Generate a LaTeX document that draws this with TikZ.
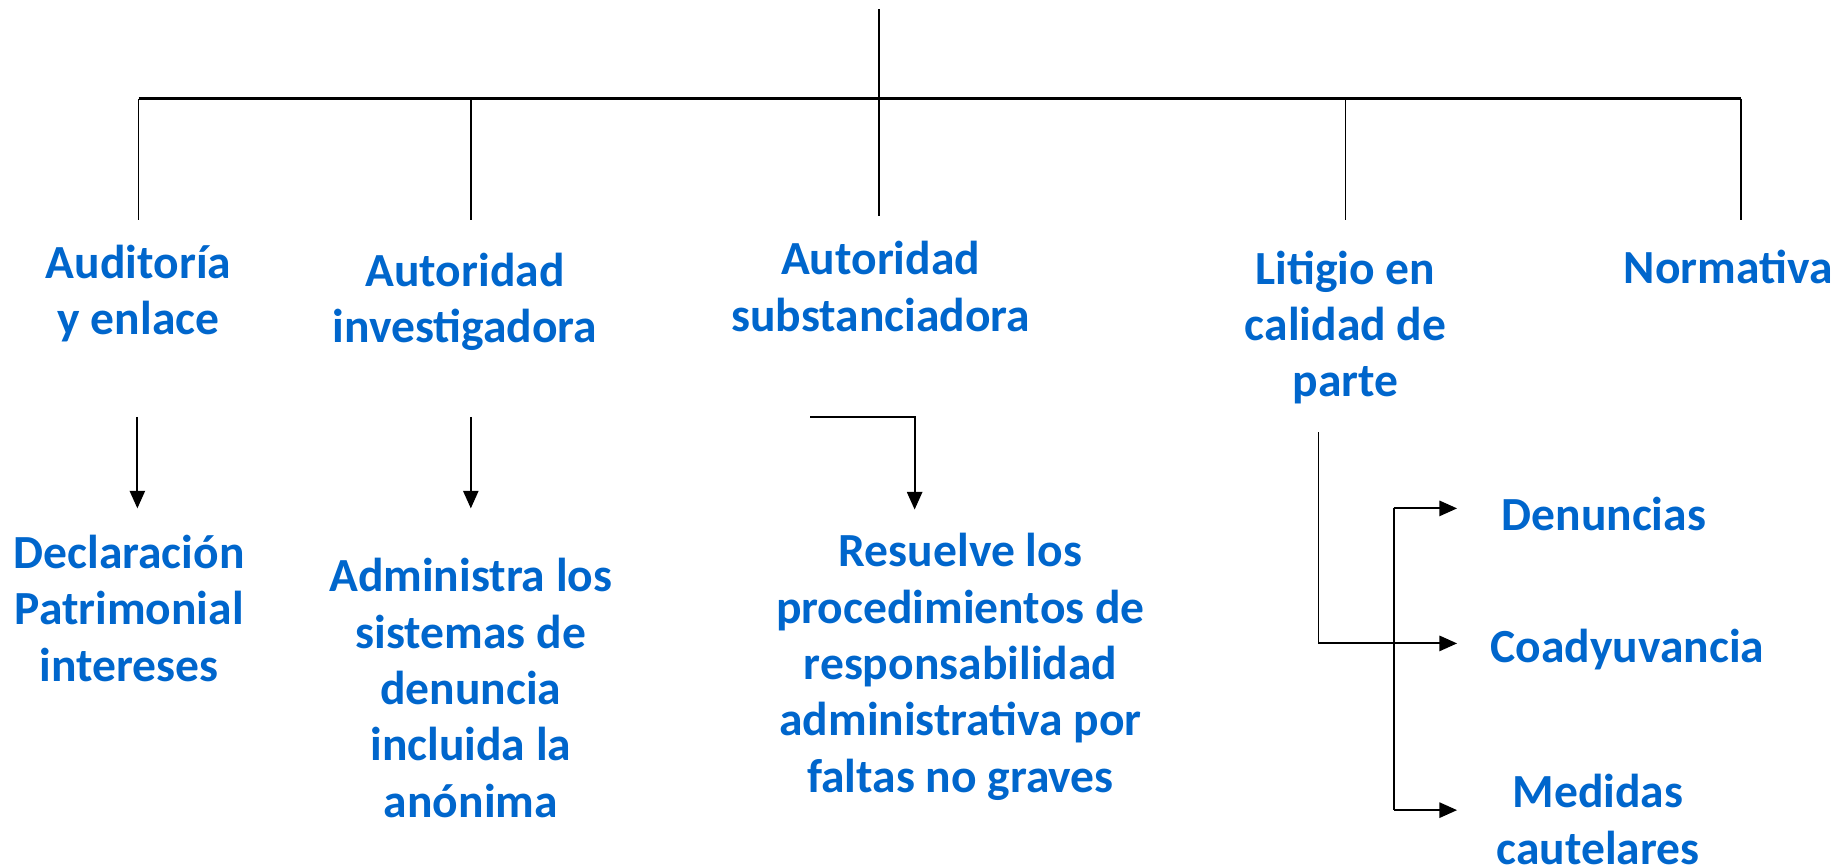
\documentclass[tikz,border=0pt]{standalone}
\usepackage{fontspec}
\setmainfont{Carlito}
\usetikzlibrary{arrows.meta}
\definecolor{txtblue}{RGB}{0,102,204}
\begin{document}
\begin{tikzpicture}[x=1pt,y=-1pt,
  lbl/.style={text=txtblue,font=\fontsize{40.5}{48}\selectfont\bfseries,align=center,inner sep=0pt},
  ln/.style={draw=black,line width=1.6pt},
  arr/.style={ln,-{Triangle[length=15pt,width=13pt]}}]
\useasboundingbox (0,0) rectangle (1568,737.6);
% top tree coordinates
\coordinate (top) at (749,8);
\coordinate (hub) at (749,84);
\coordinate (hl) at (118,84);
\coordinate (hr) at (1483,84);
\coordinate (h2) at (401,84);
\coordinate (h4) at (1146,84);
\coordinate (d1) at (118,187);
\coordinate (d2) at (401,187);
\coordinate (d3) at (749,184);
\coordinate (d4) at (1146,187);
\coordinate (d5) at (1483,187);
% labels
\node[lbl] (aud) at (118,250) {Auditoría\\y enlace};
\node[lbl] (inv) at (396,257) {Autoridad\\investigadora};
\node[lbl] (sub) at (750,244) {Autoridad\\substanciadora};
\node[lbl] (lit) at (1146,279) {Litigio en\\calidad de\\parte};
\node[lbl] (nor) at (1472,227) {Normativa};
\node[lbl] (dec) at (110,518) {Declaración\\Patrimonial\\intereses};
\node[lbl] (adm) at (401,586) {Administra los\\sistemas de\\denuncia\\incluida la\\anónima};
\node[lbl] (res) at (818,568) {Resuelve los\\procedimientos de\\responsabilidad\\administrativa por\\faltas no graves};
\node[lbl] (den) at (1366,438) {Denuncias};
\node[lbl] (coa) at (1386,553) {Coadyuvancia};
\node[lbl] (med) at (1361,698) {Medidas\\cautelares};
% tree lines
\draw[ln] (top) -- (hub);
\draw[ln,line width=2.2pt] (hl) -- (hr);
\draw[ln] (hl) -- (d1);
\draw[ln] (h2) -- (d2);
\draw[ln] (hub) -- (d3);
\draw[ln] (h4) -- (d4);
\draw[ln] (hr) -- (d5);
% arrows
\coordinate (a1s) at (117,355); \coordinate (a1e) at (117,433);
\coordinate (a2s) at (401,355); \coordinate (a2e) at (401,433);
\coordinate (a3s) at (690,355); \coordinate (a3c) at (779,355); \coordinate (a3e) at (779,434);
\draw[arr] (a1s) -- (a1e);
\draw[arr] (a2s) -- (a2e);
\draw[arr] (a3s) -- (a3c) -- (a3e);
\coordinate (l1) at (1123,368); \coordinate (l2) at (1123,548); \coordinate (l3) at (1241,548);
\coordinate (b1) at (1187,433); \coordinate (b2) at (1187,690);
\coordinate (b1e) at (1241,433); \coordinate (b2e) at (1241,690);
\draw[arr] (l1) -- (l2) -- (l3);
\draw[ln] (b1) -- (b2);
\draw[arr] (b1) -- (b1e);
\draw[arr] (b2) -- (b2e);
\end{tikzpicture}
\end{document}
